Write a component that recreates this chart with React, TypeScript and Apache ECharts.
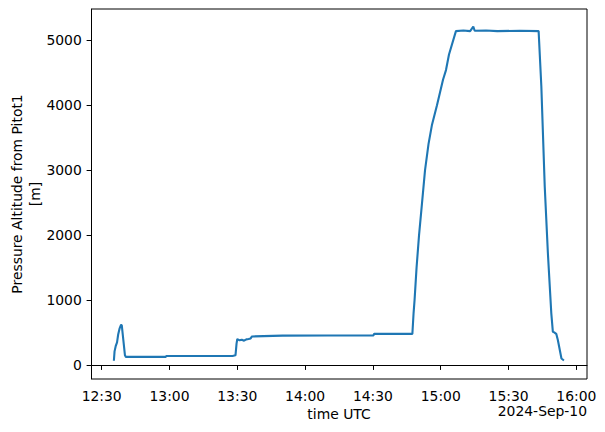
import React, { useEffect, useRef } from "react";
import * as echarts from "echarts";

// time of day (UTC) and pressure altitude [m]
const times: string[] = [
  "12:35:24", "12:35:42", "12:36:12", "12:36:48", "12:37:18", "12:37:54", "12:38:36", "12:38:54",
  "12:39:36", "12:40:18", "12:40:42", "12:50:00", "12:58:20", "12:58:40", "13:10:00", "13:20:00",
  "13:27:54", "13:29:12", "13:29:40", "13:30:00", "13:31:00", "13:32:00", "13:33:00", "13:34:00",
  "13:35:00", "13:35:54", "13:36:30", "13:50:00", "14:10:00", "14:30:12", "14:30:30", "14:40:00",
  "14:47:27", "14:47:59", "14:48:25", "14:49:18", "14:50:24", "14:51:44", "14:53:03", "14:54:35",
  "14:56:08", "14:58:20", "15:01:00", "15:02:19", "15:03:39", "15:06:43", "15:10:00", "15:13:00",
  "15:14:24", "15:15:00", "15:20:00", "15:25:00", "15:35:00", "15:43:18", "15:44:30", "15:46:00",
  "15:47:24", "15:48:54", "15:49:36", "15:50:20", "15:51:06", "15:51:48", "15:53:24", "15:54:30",
];
const altitude: number[] = [
  66, 210, 290, 350, 470, 560, 620, 610,
  380, 150, 125, 125, 125, 140, 140, 140,
  140, 150, 330, 400, 380, 390, 375, 395,
  400, 410, 440, 452, 455, 455, 480, 480,
  480, 800, 1000, 1500, 2000, 2500, 3000, 3400,
  3700, 4000, 4390, 4540, 4780, 5140, 5150, 5140,
  5210, 5145, 5150, 5140, 5145, 5140, 4290, 2750,
  1720, 800, 510, 500, 480, 385, 100, 70,
];
const xTickMinutes: number[] = [750, 780, 810, 840, 870, 900, 930, 960];
const yTicks: number[] = [0, 1000, 2000, 3000, 4000, 5000];
const yLabel = "Pressure Altitude from Pitot1\n[m]";
const xLabel = "time UTC";
const dateLabel = "2024-Sep-10";

const toMin = (s: string) => {
  const [h, m, sec] = s.split(":").map(Number);
  return h * 60 + m + sec / 60;
};
const pad = (n: number) => (n < 10 ? "0" + n : "" + n);

export default function App() {
  const ref = useRef<HTMLDivElement>(null);
  useEffect(() => {
    if (!ref.current) return;
    const chart = echarts.init(ref.current, undefined, { renderer: "svg" });
    const data = times.map((t, i) => [toMin(t), altitude[i]]);
    const font = "DejaVu Sans";
    chart.setOption({
      animation: false,
      backgroundColor: "#ffffff",
      textStyle: { fontFamily: font },
      grid: {
        left: 91.5,
        right: 18,
        top: 9,
        bottom: 53,
        show: true,
        borderColor: "#000",
        borderWidth: 1,
        backgroundColor: "#fff",
      },
      xAxis: {
        type: "value",
        min: 745.5,
        max: 964.7,
        splitLine: { show: false },
        axisLine: { show: true, lineStyle: { color: "#000", width: 1 } },
        axisTick: {
          show: true,
          inside: false,
          length: 4.9,
          lineStyle: { color: "#000", width: 1 },
          customValues: xTickMinutes,
        },
        axisLabel: {
          color: "#000",
          fontSize: 13.9,
          fontFamily: font,
          margin: 9.7,
          customValues: xTickMinutes,
          formatter: (v: number) => pad(Math.floor(v / 60)) + ":" + pad(Math.round(v % 60)),
        },
      },
      yAxis: {
        type: "value",
        min: -215,
        max: 5480,
        splitLine: { show: false },
        axisLine: { show: true, lineStyle: { color: "#000", width: 1 } },
        axisTick: {
          show: true,
          inside: false,
          length: 4.9,
          lineStyle: { color: "#000", width: 1 },
          customValues: yTicks,
        },
        axisLabel: {
          color: "#000",
          fontSize: 13.9,
          fontFamily: font,
          margin: 9.7,
          customValues: yTicks,
          formatter: (v: number) => String(v),
        },
      },
      series: [
        {
          type: "line",
          data,
          showSymbol: false,
          symbol: "none",
          lineStyle: { color: "#1f77b4", width: 2.1 },
        },
      ],
      graphic: [
        {
          type: "text",
          x: 26,
          y: 194,
          rotation: Math.PI / 2,
          style: {
            text: yLabel,
            fill: "#000",
            font: `13.9px "${font}"`,
            align: "center",
            verticalAlign: "middle",
            lineHeight: 18,
          },
        },
        {
          type: "text",
          x: 339,
          y: 414,
          style: {
            text: xLabel,
            fill: "#000",
            font: `13.9px "${font}"`,
            align: "center",
            verticalAlign: "middle",
          },
        },
        {
          type: "text",
          x: 587,
          y: 411,
          style: {
            text: dateLabel,
            fill: "#000",
            font: `13.9px "${font}"`,
            align: "right",
            verticalAlign: "middle",
          },
        },
      ],
    });
    return () => chart.dispose();
  }, []);
  return <div ref={ref} style={{ width: 605, height: 432, position: "absolute", left: 0, top: 0 }} />;
}
